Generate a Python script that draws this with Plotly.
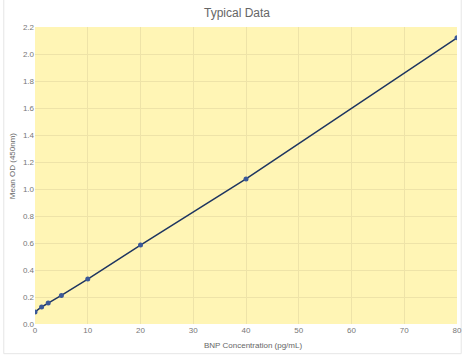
import plotly.graph_objects as go

conc = [0, 1.25, 2.5, 5, 10, 20, 40, 80]
od = [0.089, 0.126, 0.155, 0.212, 0.333, 0.585, 1.075, 2.12]
x_ticks = [0, 10, 20, 30, 40, 50, 60, 70, 80]
y_ticks = [0.0, 0.2, 0.4, 0.6, 0.8, 1.0, 1.2, 1.4, 1.6, 1.8, 2.0, 2.2]

fig = go.Figure()
fig.add_trace(go.Scatter(
    x=conc, y=od, mode="lines+markers",
    line=dict(color="#1e3560", width=1.5),
    marker=dict(color="#3b5998", size=5),
    showlegend=False,
))

font_color = "#777777"
fig.update_layout(
    width=474, height=358,
    margin=dict(l=35, r=13, t=27, b=34),
    paper_bgcolor="white",
    plot_bgcolor="#fff5b5",
    font=dict(family="Liberation Sans, Arial, sans-serif", color=font_color, size=8),
    title=dict(text="Typical Data", x=0.5, xanchor="center", y=0.975, yanchor="top",
               font=dict(size=12, color="#666666")),
    xaxis=dict(range=[0, 80], tickvals=x_ticks, ticktext=[str(v) for v in x_ticks],
               showgrid=True, gridcolor="#eee3a8", gridwidth=1, zeroline=False,
               showline=False, ticks="", tickfont=dict(size=8, color=font_color)),
    yaxis=dict(range=[0, 2.2], tickvals=y_ticks, ticktext=[f"{v:.1f}" for v in y_ticks],
               showgrid=True, gridcolor="#eee3a8", gridwidth=1, zeroline=False,
               showline=False, ticks="", tickfont=dict(size=8, color=font_color)),
)
fig.add_annotation(text="BNP Concentration (pg/mL)", xref="paper", yref="paper",
                   x=(255 - 35) / 426, y=-(345 - 324) / 297, xanchor="center", yanchor="middle",
                   showarrow=False, font=dict(size=8, color="#666666"))
fig.add_annotation(text="Mean OD (450nm)", xref="paper", yref="paper",
                   x=(12 - 35) / 426, y=(324 - 166) / 297, xanchor="center", yanchor="middle",
                   textangle=-90, showarrow=False, font=dict(size=8, color="#666666"))
fig.add_shape(type="rect", xref="paper", yref="paper", x0=-0.074, x1=1.01, y0=-0.1, y1=1.1,
              line=dict(color="#e6e6e6", width=1), layer="below")

fig.write_html("out.html")
